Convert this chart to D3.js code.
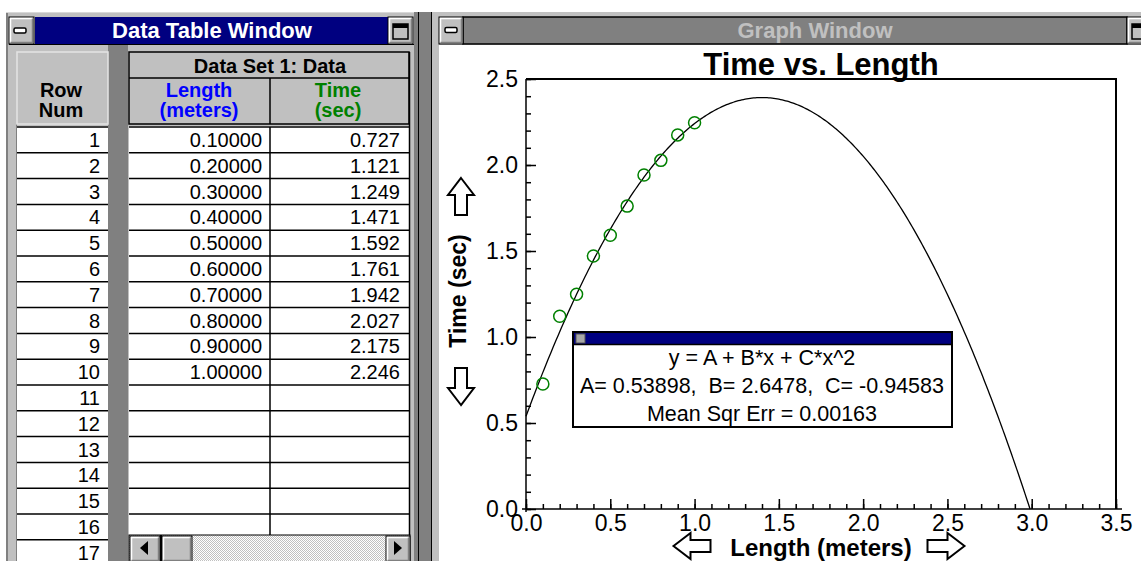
<!DOCTYPE html>
<html>
<head>
<meta charset="utf-8">
<script src="https://cdn.jsdelivr.net/npm/d3@7"></script>
<style>
html, body { margin: 0; padding: 0; background: #fff; overflow: hidden; }
svg { display: block; font-family: "Liberation Sans", Arial, sans-serif; }
</style>
</head>
<body>
<div id="chart"></div>
<script>
// ---- data ----
var rowNums = [1, 2, 3, 4, 5, 6, 7, 8, 9, 10, 11, 12, 13, 14, 15, 16, 17];
var lengths = [0.1, 0.2, 0.3, 0.4, 0.5, 0.6, 0.7, 0.8, 0.9, 1.0];
var times = [0.727, 1.121, 1.249, 1.471, 1.592, 1.761, 1.942, 2.027, 2.175, 2.246];
var fitA = 0.53898, fitB = 2.6478, fitC = -0.94583, fitMse = 0.00163;
var xTickValues = [0, 0.5, 1, 1.5, 2, 2.5, 3, 3.5];
var yTickValues = [0, 0.5, 1, 1.5, 2, 2.5];

var W = 1141, H = 561;
var gray = "#c0c0c0", dark = "#808080", navy = "#000080";

var svg = d3.select("#chart").append("svg")
	.attr("width", W)
	.attr("height", H);

// small helper for the win3.1 style buttons
function button(g, x0, y0, w, h) {
	g.append("rect").attr("x", x0).attr("y", y0).attr("width", w).attr("height", h)
		.attr("fill", gray).attr("stroke", "#000").attr("stroke-width", 1);
	g.append("path")
		.attr("d", "M" + (x0 + 1.5) + "," + (y0 + h - 1.5) + "V" + (y0 + 1.5) + "H" + (x0 + w - 1.5))
		.attr("fill", "none").attr("stroke", "#fff").attr("stroke-width", 1.5);
	g.append("path")
		.attr("d", "M" + (x0 + 1.5) + "," + (y0 + h - 1.5) + "H" + (x0 + w - 1.5) + "V" + (y0 + 1.5))
		.attr("fill", "none").attr("stroke", dark).attr("stroke-width", 1.5);
}

function minIcon(g, cx, cy) {
	g.append("rect").attr("x", cx - 6).attr("y", cy - 2.5).attr("width", 12).attr("height", 5)
		.attr("rx", 1.5).attr("fill", "#fff").attr("stroke", "#000").attr("stroke-width", 1.5);
}

function maxIcon(g, x0, y0) {
	g.append("rect").attr("x", x0).attr("y", y0).attr("width", 15).attr("height", 15)
		.attr("fill", gray).attr("stroke", "#000").attr("stroke-width", 1.5);
	g.append("rect").attr("x", x0).attr("y", y0).attr("width", 15).attr("height", 4).attr("fill", "#000");
}

/* ================= Data Table Window ================= */
var tw = svg.append("g").attr("class", "table-window");

tw.append("rect").attr("x", 6).attr("y", 12).attr("width", 412).attr("height", H - 12).attr("fill", gray);
tw.append("line").attr("x1", 7).attr("x2", 7).attr("y1", 12).attr("y2", H).attr("stroke", dark).attr("stroke-width", 2);
tw.append("line").attr("x1", 6).attr("x2", 418).attr("y1", 12.5).attr("y2", 12.5).attr("stroke", "#d8d8d8");

// title bar
tw.append("rect").attr("x", 35).attr("y", 17).attr("width", 353).attr("height", 27).attr("fill", navy);
tw.append("line").attr("x1", 9).attr("x2", 414).attr("y1", 44.5).attr("y2", 44.5).attr("stroke", "#000");
button(tw, 9, 17, 25, 27);
minIcon(tw, 20, 30.5);
button(tw, 388, 17, 25, 27);
maxIcon(tw, 393, 24);
tw.append("text").attr("x", 212).attr("y", 38).attr("text-anchor", "middle")
	.attr("fill", "#fff").attr("font-weight", "bold").attr("font-size", 22)
	.text("Data Table Window");

// dark gap between row number column and data columns
tw.append("rect").attr("x", 108).attr("y", 45).attr("width", 20).attr("height", H - 45).attr("fill", dark);
// right edge of window
tw.append("rect").attr("x", 414).attr("y", 12).attr("width", 4).attr("height", H - 12).attr("fill", dark);
tw.append("line").attr("x1", 16.5).attr("x2", 16.5).attr("y1", 124).attr("y2", H).attr("stroke", dark);

// row num header
tw.append("rect").attr("x", 17).attr("y", 52).attr("width", 91).attr("height", 72).attr("fill", gray)
	.attr("stroke", "#e4e4e4").attr("stroke-width", 1.5);

// data set header
tw.append("rect").attr("x", 129).attr("y", 52).attr("width", 280).attr("height", 72).attr("fill", gray)
	.attr("stroke", "#000").attr("stroke-width", 1.5);
tw.append("line").attr("x1", 129).attr("x2", 409).attr("y1", 78).attr("y2", 78).attr("stroke", "#000").attr("stroke-width", 1.5);
tw.append("line").attr("x1", 270).attr("x2", 270).attr("y1", 78).attr("y2", 124).attr("stroke", "#000").attr("stroke-width", 1.5);

var hdr = tw.append("g").attr("font-weight", "bold").attr("font-size", 20).attr("text-anchor", "middle");
hdr.append("text").attr("x", 61).attr("y", 97).text("Row");
hdr.append("text").attr("x", 61).attr("y", 117).text("Num");
hdr.append("text").attr("x", 270).attr("y", 73).text("Data Set 1: Data");
hdr.append("text").attr("x", 199).attr("y", 97).attr("fill", "#0000ff").text("Length");
hdr.append("text").attr("x", 199).attr("y", 117).attr("fill", "#0000ff").text("(meters)");
hdr.append("text").attr("x", 338).attr("y", 97).attr("fill", "#008000").text("Time");
hdr.append("text").attr("x", 338).attr("y", 117).attr("fill", "#008000").text("(sec)");

// rows
var rowTop = 127, rowH = 25.8, dataBottom = 535;
var fmtLen = d3.format(".5f"), fmtTime = d3.format(".3f");

tw.append("rect").attr("x", 17).attr("y", rowTop - 1).attr("width", 91).attr("height", H - rowTop + 1).attr("fill", "#fff");
tw.append("rect").attr("x", 129).attr("y", rowTop - 1).attr("width", 280).attr("height", dataBottom - rowTop + 1).attr("fill", "#fff");
tw.append("line").attr("x1", 409.5).attr("x2", 409.5).attr("y1", 52).attr("y2", dataBottom).attr("stroke", "#000").attr("stroke-width", 1.5);
tw.append("line").attr("x1", 270).attr("x2", 270).attr("y1", rowTop).attr("y2", dataBottom).attr("stroke", "#000").attr("stroke-width", 1.5);

var rows = tw.selectAll("g.row").data(rowNums).enter().append("g").attr("class", "row")
	.attr("transform", function(d, i) { return "translate(0," + (rowTop + i * rowH) + ")"; });

rows.append("line").attr("x1", 17).attr("x2", 108).attr("y1", 0).attr("y2", 0)
	.attr("stroke", "#000").attr("stroke-width", 1.5);
rows.filter(function(d, i) { return rowTop + i * rowH < dataBottom; })
	.append("line").attr("x1", 129).attr("x2", 409).attr("y1", 0).attr("y2", 0)
	.attr("stroke", "#000").attr("stroke-width", 1.5);
rows.append("text").attr("x", 100).attr("y", 20).attr("text-anchor", "end").attr("font-size", 20)
	.text(function(d) { return d; });
rows.filter(function(d, i) { return i < lengths.length; }).append("text")
	.attr("x", 262).attr("y", 20).attr("text-anchor", "end").attr("font-size", 20)
	.text(function(d) { return fmtLen(lengths[d - 1]); });
rows.filter(function(d, i) { return i < times.length; }).append("text")
	.attr("x", 400).attr("y", 20).attr("text-anchor", "end").attr("font-size", 20)
	.text(function(d) { return fmtTime(times[d - 1]); });

// horizontal scroll bar
var defs = svg.append("defs");
var pat = defs.append("pattern").attr("id", "hatch").attr("width", 2).attr("height", 2).attr("patternUnits", "userSpaceOnUse");
pat.append("rect").attr("width", 2).attr("height", 2).attr("fill", "#fff");
pat.append("rect").attr("width", 1).attr("height", 1).attr("fill", gray);
pat.append("rect").attr("x", 1).attr("y", 1).attr("width", 1).attr("height", 1).attr("fill", gray);

tw.append("rect").attr("x", 129).attr("y", dataBottom).attr("width", 281).attr("height", H - dataBottom + 2)
	.attr("fill", "url(#hatch)").attr("stroke", "#000");
button(tw, 130, dataBottom + 1, 30, 26);
button(tw, 162, dataBottom + 1, 30, 26);
button(tw, 386, dataBottom + 1, 24, 26);
tw.append("line").attr("x1", 161).attr("x2", 161).attr("y1", dataBottom).attr("y2", H).attr("stroke", "#000").attr("stroke-width", 2);
tw.append("path").attr("d", "M140,548 L148,541 L148,555 Z").attr("fill", "#000");
tw.append("path").attr("d", "M402,548 L394,541 L394,555 Z").attr("fill", "#000");

/* ================= gap between windows ================= */
svg.append("rect").attr("x", 418).attr("y", 0).attr("width", 14).attr("height", H).attr("fill", dark);
svg.append("rect").attr("x", 418).attr("y", 0).attr("width", 14).attr("height", 12).attr("fill", "#fff");
svg.append("line").attr("x1", 418.5).attr("x2", 418.5).attr("y1", 12).attr("y2", H).attr("stroke", "#000");
svg.append("line").attr("x1", 431.5).attr("x2", 431.5).attr("y1", 12).attr("y2", H).attr("stroke", "#000");

/* ================= Graph Window ================= */
var gw = svg.append("g").attr("class", "graph-window");
gw.append("rect").attr("x", 432).attr("y", 12).attr("width", W - 432).attr("height", H - 12).attr("fill", gray);
gw.append("rect").attr("x", 439).attr("y", 45).attr("width", W - 439).attr("height", H - 45).attr("fill", "#fff");
gw.append("rect").attr("x", 463).attr("y", 17).attr("width", 664).attr("height", 27).attr("fill", dark)
	.attr("stroke", "#000").attr("stroke-width", 1.5);
button(gw, 439, 17, 24, 27);
minIcon(gw, 451, 30);
button(gw, 1127, 17, 24, 27);
maxIcon(gw, 1132, 24);
gw.append("text").attr("x", 815).attr("y", 38).attr("text-anchor", "middle")
	.attr("fill", gray).attr("font-weight", "bold").attr("font-size", 22)
	.text("Graph Window");

// ---- plot ----
var x = d3.scaleLinear().domain([0, 3.5]).range([526, 1116]);
var y = d3.scaleLinear().domain([0, 2.5]).range([509, 79]);
var fmt1 = d3.format(".1f");

var plot = gw.append("g").attr("class", "plot");

plot.append("text").attr("x", 821).attr("y", 75).attr("text-anchor", "middle")
	.attr("font-weight", "bold").attr("font-size", 31).text("Time vs. Length");

// frame (top and right)
plot.append("path")
	.attr("d", "M" + x(0) + "," + y(2.5) + "H" + x(3.5) + "V" + y(0))
	.attr("fill", "none").attr("stroke", "#000").attr("stroke-width", 2);

// minor ticks
plot.append("g").attr("transform", "translate(0," + y(0) + ")")
	.call(d3.axisBottom(x).tickValues(x.ticks(35)).tickSizeInner(-5).tickSizeOuter(0).tickFormat(""));
plot.append("g").attr("transform", "translate(" + x(0) + ",0)")
	.call(d3.axisLeft(y).tickValues(y.ticks(25)).tickSizeInner(-5).tickSizeOuter(0).tickFormat(""));

// major ticks with labels
plot.append("g").attr("transform", "translate(0," + y(0) + ")")
	.call(d3.axisBottom(x).tickValues(xTickValues).tickSizeInner(-10).tickSizeOuter(0).tickPadding(6).tickFormat(fmt1));
plot.append("g").attr("transform", "translate(" + x(0) + ",0)")
	.call(d3.axisLeft(y).tickValues(yTickValues).tickSizeInner(-10).tickSizeOuter(0).tickPadding(8).tickFormat(fmt1));

plot.selectAll(".domain").remove();
plot.selectAll(".tick line").attr("stroke", "#000").attr("stroke-width", 1.5);
plot.selectAll(".tick text").attr("font-family", "'Liberation Sans', Arial, sans-serif")
	.attr("font-size", 23).attr("fill", "#000");

// axis lines
plot.append("line").attr("x1", x(0)).attr("x2", x(0)).attr("y1", y(2.5)).attr("y2", y(0) + 3)
	.attr("stroke", "#000").attr("stroke-width", 1.5);
plot.append("line").attr("x1", x(0) - 4).attr("x2", x(3.5) + 6).attr("y1", y(0)).attr("y2", y(0))
	.attr("stroke", "#000").attr("stroke-width", 1.5);

// fitted curve, drawn until it reaches zero
var root = (-fitB - Math.sqrt(fitB * fitB - 4 * fitC * fitA)) / (2 * fitC);
var curveX = d3.range(0, root, 0.01).concat([root]);
var line = d3.line()
	.x(function(d) { return x(d); })
	.y(function(d) { return y(fitA + fitB * d + fitC * d * d); });
plot.append("path").datum(curveX).attr("d", line)
	.attr("fill", "none").attr("stroke", "#000").attr("stroke-width", 1.3);

// data points
plot.selectAll("circle.pt").data(lengths).enter().append("circle").attr("class", "pt")
	.attr("cx", function(d) { return x(d); })
	.attr("cy", function(d, i) { return y(times[i]); })
	.attr("r", 6)
	.attr("fill", "none").attr("stroke", "#008000").attr("stroke-width", 1.5);

// axis titles with hollow arrows
plot.append("text").attr("transform", "translate(466,291) rotate(-90)").attr("text-anchor", "middle")
	.attr("font-weight", "bold").attr("font-size", 23).text("Time (sec)");
plot.append("text").attr("x", 821).attr("y", 556).attr("text-anchor", "middle")
	.attr("font-weight", "bold").attr("font-size", 24).text("Length (meters)");

var arrowPts = [[0, -18.5], [13, -1.5], [6, -1.5], [6, 18.5], [-6, 18.5], [-6, -1.5], [-13, -1.5]];
var arrows = [
	{ cx: 461, cy: 196.5, rot: 0 },
	{ cx: 461, cy: 386.5, rot: 180 },
	{ cx: 692, cy: 546, rot: -90 },
	{ cx: 946, cy: 546, rot: 90 }
];
plot.selectAll("polygon.arrow").data(arrows).enter().append("polygon").attr("class", "arrow")
	.attr("points", arrowPts.map(function(p) { return p.join(","); }).join(" "))
	.attr("transform", function(d) { return "translate(" + d.cx + "," + d.cy + ") rotate(" + d.rot + ")"; })
	.attr("fill", "#fff").attr("stroke", "#000").attr("stroke-width", 2).attr("stroke-linejoin", "miter");

// fit results box
var box = plot.append("g").attr("class", "fit-box");
box.append("rect").attr("x", 573).attr("y", 332).attr("width", 379).attr("height", 95)
	.attr("fill", "#fff").attr("stroke", "#000").attr("stroke-width", 2);
box.append("rect").attr("x", 574).attr("y", 333).attr("width", 377).attr("height", 11).attr("fill", navy);
box.append("rect").attr("x", 576).attr("y", 334).attr("width", 9).attr("height", 9)
	.attr("fill", "#a8a8a8").attr("stroke", "#555").attr("stroke-width", 1);
box.append("line").attr("x1", 573).attr("x2", 952).attr("y1", 344.5).attr("y2", 344.5).attr("stroke", "#000").attr("stroke-width", 1.5);

var boxLines = [
	"y = A + B*x + C*x^2",
	"A= " + fitA + ",  B= " + fitB + ",  C= " + fitC,
	"Mean Sqr Err = " + fitMse
];
box.selectAll("text").data(boxLines).enter().append("text")
	.attr("x", 762)
	.attr("y", function(d, i) { return 365 + i * 28; })
	.attr("text-anchor", "middle")
	.attr("font-size", 21.5)
	.style("white-space", "pre")
	.text(function(d) { return d; });
</script>
</body>
</html>
